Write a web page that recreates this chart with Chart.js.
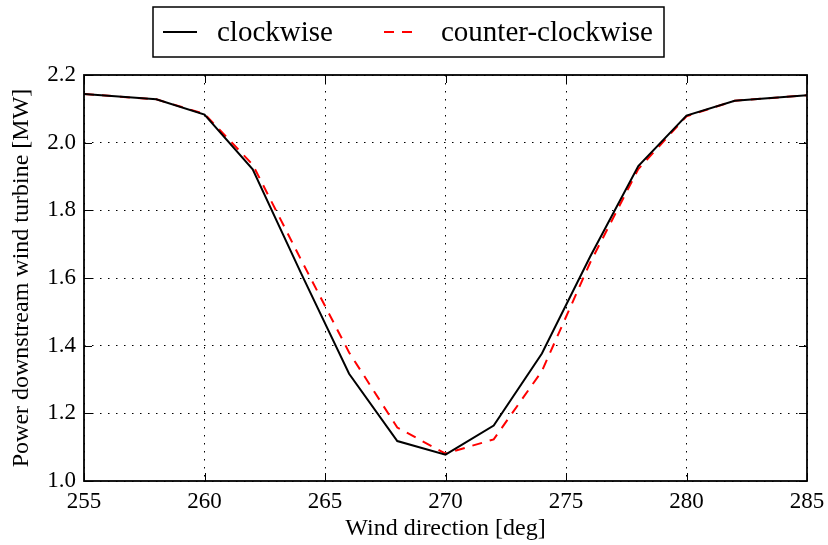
<!DOCTYPE html>
<html>
<head>
<meta charset="utf-8">
<script src="https://cdn.jsdelivr.net/npm/chart.js@4.4.1/dist/chart.umd.min.js"></script>
<style>
  html, body { margin: 0; padding: 0; background: #fff; }
  #wrap { width: 828px; height: 545px; position: relative; }
</style>
</head>
<body>
<div id="wrap"><canvas id="powerChart"></canvas></div>
<script>

// wind direction [deg]
var directions = [255, 258, 260, 262, 264, 266, 268, 270, 272, 274, 276, 278, 280, 282, 285];

// power downstream turbine [MW]
var clockwise = [2.144, 2.128, 2.083, 1.921, 1.615, 1.317, 1.118, 1.078, 1.164, 1.377, 1.663, 1.931, 2.080, 2.124, 2.140];
var counterClockwise = [2.144, 2.128, 2.085, 1.935, 1.655, 1.380, 1.158, 1.081, 1.123, 1.325, 1.645, 1.922, 2.078, 2.124, 2.140];

var seriesLabels = ["clockwise", "counter-clockwise"];

var xTicks = [255, 260, 265, 270, 275, 280, 285];
var yTicks = [1.0, 1.2, 1.4, 1.6, 1.8, 2.0, 2.2];

var SERIF = "'Liberation Serif', 'DejaVu Serif', serif";

function toPoints(xs, ys) {
    return xs.map(function (x, i) { return { x: x, y: ys[i] }; });
}


// frame + inward ticks, like the classic matplotlib look
var frameTicks = {
    id: "frameTicks",
    afterDatasetsDraw: function (chart) {
        var ctx = chart.ctx;
        var a = chart.chartArea;
        var xs = chart.scales.x;
        var ys = chart.scales.y;
        var len = 8;

        ctx.save();
        ctx.strokeStyle = "#000";
        ctx.lineWidth = 1;
        ctx.beginPath();
        xTicks.forEach(function (v) {
            var px = Math.round(xs.getPixelForValue(v)) + 0.5;
            ctx.moveTo(px, a.bottom); ctx.lineTo(px, a.bottom - len);
            ctx.moveTo(px, a.top); ctx.lineTo(px, a.top + len);
        });
        yTicks.forEach(function (v) {
            var py = Math.round(ys.getPixelForValue(v)) + 0.5;
            ctx.moveTo(a.left, py); ctx.lineTo(a.left + len, py);
            ctx.moveTo(a.right, py); ctx.lineTo(a.right - len, py);
        });
        ctx.stroke();

        ctx.lineWidth = 1.8;
        ctx.strokeRect(a.left, a.top, a.right - a.left, a.bottom - a.top);
        ctx.restore();
    }
};


// legend box above the plot
var boxLegend = {
    id: "boxLegend",
    afterDraw: function (chart) {
        var ctx = chart.ctx;
        var sets = chart.data.datasets;

        var left = 153, top = 7, right = 664, bottom = 57;
        var midY = (top + bottom) / 2;
        var handleX = [163, 384];
        var textX = [217, 441];

        ctx.save();
        ctx.fillStyle = "#fff";
        ctx.fillRect(left, top, right - left, bottom - top);
        ctx.strokeStyle = "#000";
        ctx.lineWidth = 1.5;
        ctx.strokeRect(left, top, right - left, bottom - top);

        sets.forEach(function (ds, i) {
            ctx.beginPath();
            ctx.strokeStyle = ds.borderColor;
            ctx.lineWidth = ds.borderWidth;
            ctx.setLineDash(ds.borderDash || []);
            ctx.moveTo(handleX[i], midY);
            ctx.lineTo(handleX[i] + 34, midY);
            ctx.stroke();
            ctx.setLineDash([]);

            ctx.fillStyle = "#000";
            ctx.font = "29px " + SERIF;
            ctx.textBaseline = "middle";
            ctx.fillText(ds.label, textX[i], midY + 1);
        });
        ctx.restore();
    }
};


new Chart(
    document.getElementById("powerChart"),
    {
        type: "line",

        data: {
            datasets: [
                {
                    label: seriesLabels[0],
                    data: toPoints(directions, clockwise),
                    borderColor: "#000000",
                    borderWidth: 2,
                    pointRadius: 0,
                    tension: 0,
                    fill: false
                },
                {
                    label: seriesLabels[1],
                    data: toPoints(directions, counterClockwise),
                    borderColor: "#ff0000",
                    borderWidth: 2,
                    borderDash: [10, 8],
                    pointRadius: 0,
                    tension: 0,
                    fill: false
                }
            ]
        },

        options: {
            responsive: true,
            maintainAspectRatio: false,
            animation: false,
            devicePixelRatio: 1,

            layout: {
                padding: { left: 0, right: 21, top: 75, bottom: 0 }
            },

            plugins: {
                legend: { display: false },
                tooltip: { enabled: false }
            },

            scales: {
                x: {
                    type: "linear",
                    min: 255,
                    max: 285,
                    afterBuildTicks: function (scale) {
                        scale.ticks = xTicks.map(function (v) { return { value: v }; });
                    },
                    afterFit: function (scale) {
                        scale.height = 64;
                        scale.paddingLeft = 0;
                        scale.paddingRight = 0;
                    },
                    ticks: {
                        color: "#000",
                        padding: 7,
                        maxRotation: 0,
                        font: { family: SERIF, size: 23 }
                    },
                    grid: {
                        color: "#000",
                        lineWidth: 1,
                        drawTicks: false
                    },
                    border: { display: false, dash: [1.5, 6.5] },
                    title: {
                        display: true,
                        text: "Wind direction [deg]",
                        color: "#000",
                        font: { family: SERIF, size: 24 },
                        padding: { top: 0, bottom: 2 }
                    }
                },
                y: {
                    type: "linear",
                    min: 1.0,
                    max: 2.2,
                    afterBuildTicks: function (scale) {
                        scale.ticks = yTicks.map(function (v) { return { value: v }; });
                    },
                    afterFit: function (scale) {
                        scale.width = 84;
                        scale.paddingTop = 0;
                        scale.paddingBottom = 0;
                    },
                    ticks: {
                        color: "#000",
                        padding: 8,
                        font: { family: SERIF, size: 23 },
                        callback: function (v) { return Number(v).toFixed(1); }
                    },
                    grid: {
                        color: "#000",
                        lineWidth: 1,
                        drawTicks: false
                    },
                    border: { display: false, dash: [1.5, 6.5] },
                    title: {
                        display: true,
                        text: "Power downstream wind turbine [MW]",
                        color: "#000",
                        font: { family: SERIF, size: 24 },
                        padding: { top: 7, bottom: 0 }
                    }
                }
            }
        },

        plugins: [frameTicks, boxLegend]
    }
);

</script>
</body>
</html>
